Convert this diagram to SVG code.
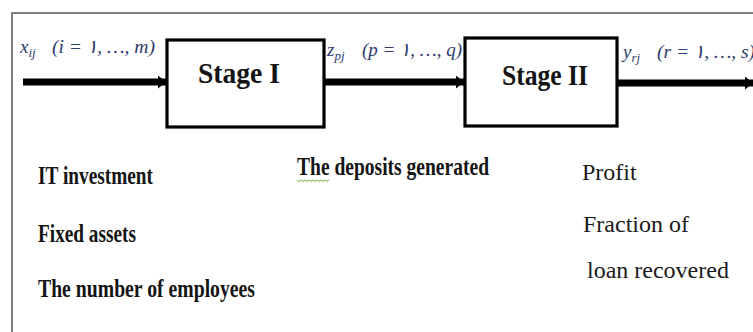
<svg xmlns="http://www.w3.org/2000/svg" width="753" height="332" viewBox="0 0 753 332">
<style>
.frame{fill:none;stroke:#7f7f7f;stroke-width:2}
.box{fill:#fff;stroke:#000;stroke-width:3.2}
.arr{stroke:#000;stroke-width:7;fill:none}
.stage{font-family:"Liberation Serif",serif;font-weight:bold;font-size:26px;fill:#141414}
.math{font-family:"Liberation Serif","DejaVu Serif",serif;font-style:italic;font-size:19px;fill:#2b3b6e}
.sub{font-size:13px}
.bt{font-family:"Liberation Serif",serif;font-weight:bold;font-size:20px;fill:#141414}
.rt{font-family:"Liberation Serif",serif;font-size:24px;fill:#1a1a1a}
</style>
<defs>
<marker id="ah" markerUnits="userSpaceOnUse" markerWidth="8" markerHeight="13" refX="8" refY="6.5" orient="auto">
<path d="M0,0 L8,6.5 L0,13 z" fill="#000"/>
</marker>
</defs>
<rect width="753" height="332" fill="#fff"/>
<g id="frame">
<path class="frame" d="M12,332 V13 H753"/>
</g>
<g id="connectors">
<line class="arr" x1="23" y1="82" x2="166" y2="82" marker-end="url(#ah)"/>
<line class="arr" x1="324" y1="82" x2="464" y2="82" marker-end="url(#ah)"/>
<line class="arr" x1="617" y1="83" x2="753" y2="83" marker-end="url(#ah)"/>
</g>
<g id="stage1">
<rect class="box" x="167" y="40" width="157" height="87"/>
<text class="stage" transform="translate(239,83) scale(1,1.15)" text-anchor="middle" textLength="82" lengthAdjust="spacingAndGlyphs">Stage I</text>
</g>
<g id="stage2">
<rect class="box" x="465" y="38" width="152" height="88"/>
<text class="stage" transform="translate(545,85) scale(1,1.15)" text-anchor="middle" textLength="86" lengthAdjust="spacingAndGlyphs">Stage II</text>
</g>
<g id="labels">
<text class="math" x="20" y="53">x<tspan class="sub" dy="4">ij</tspan></text>
<text class="math" x="52" y="53" textLength="103" lengthAdjust="spacingAndGlyphs">(i = ١, …, m)</text>
<text class="math" x="327" y="56">z<tspan class="sub" dy="4">pj</tspan></text>
<text class="math" x="362" y="56" textLength="100" lengthAdjust="spacingAndGlyphs">(p = ١, …, q)</text>
<text class="math" x="623" y="58">y<tspan class="sub" dy="4">rj</tspan></text>
<text class="math" x="657" y="58" textLength="98" lengthAdjust="spacingAndGlyphs">(r = ١, …, s)</text>
</g>
<g id="inputs">
<text class="bt" transform="translate(38,184) scale(1,1.3)" textLength="115" lengthAdjust="spacingAndGlyphs">IT investment</text>
<text class="bt" transform="translate(38,242) scale(1,1.3)" textLength="98" lengthAdjust="spacingAndGlyphs">Fixed assets</text>
<text class="bt" transform="translate(38,297) scale(1,1.3)" textLength="217" lengthAdjust="spacingAndGlyphs">The number of employees</text>
</g>
<g id="intermediate">
<text class="bt" transform="translate(297,175) scale(1,1.3)" textLength="192" lengthAdjust="spacingAndGlyphs">The deposits generated</text>
<path d="M297,180 l2,1.5 l2,-1.5 l2,1.5 l2,-1.5 l2,1.5 l2,-1.5 l2,1.5 l2,-1.5 l2,1.5 l2,-1.5 l2,1.5 l2,-1.5 l2,1.5 l2,-1.5 l2,1.5 l2,-1.5" fill="none" stroke="#70ad47" stroke-width="1"/>
</g>
<g id="outputs">
<text class="rt" x="582" y="180">Profit</text>
<text class="rt" x="583" y="232">Fraction of</text>
<text class="rt" x="587" y="278">loan recovered</text>
</g>
</svg>
